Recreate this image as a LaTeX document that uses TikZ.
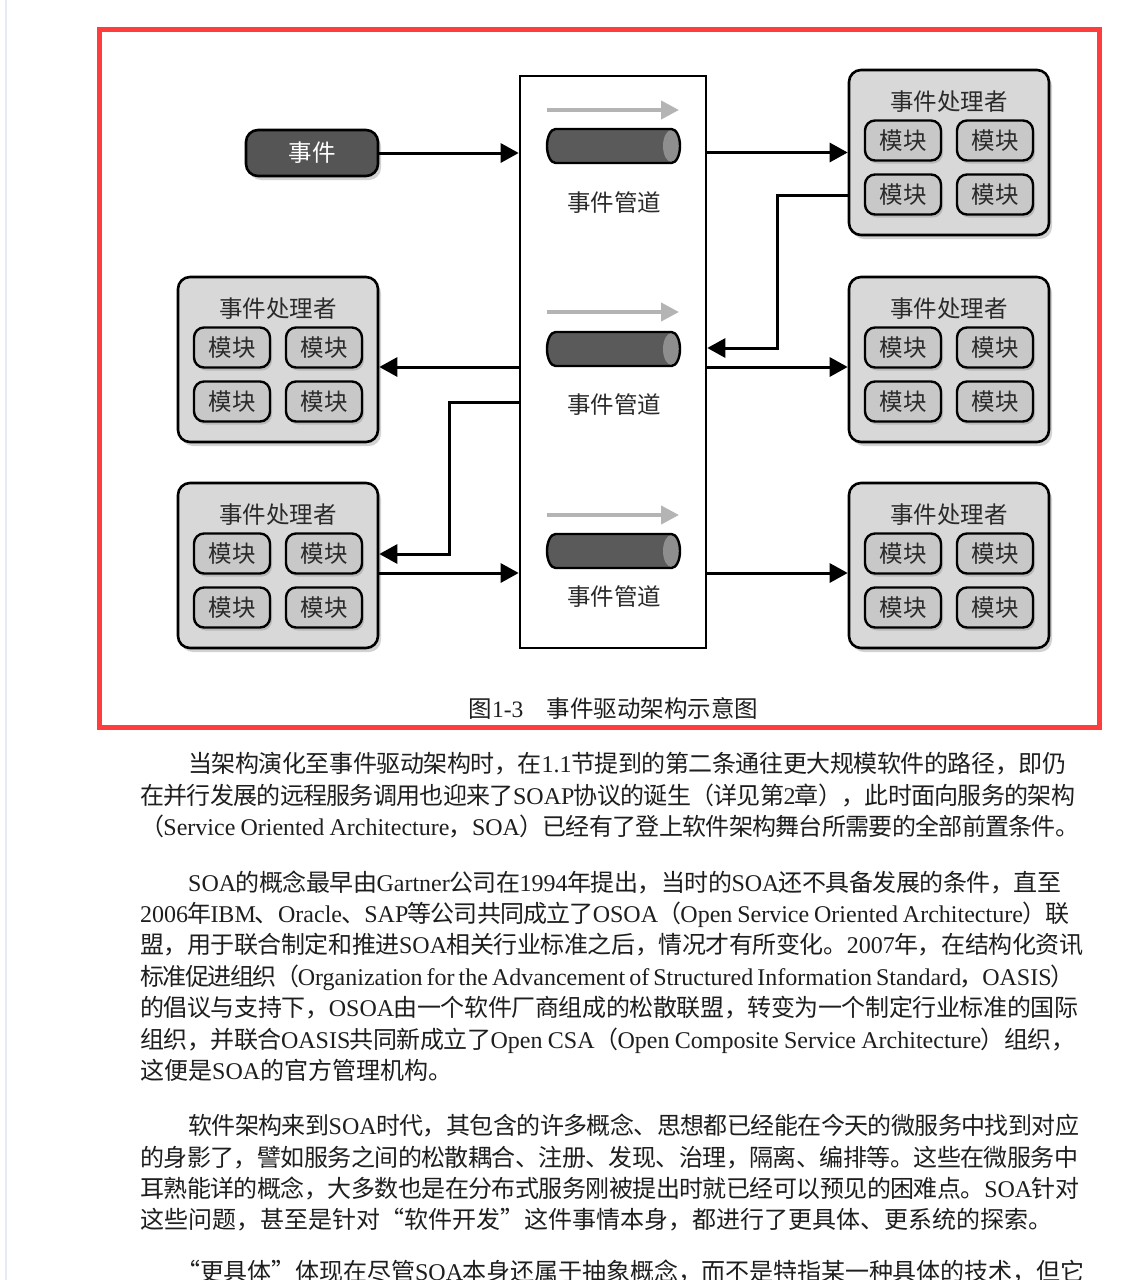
\documentclass[tikz,border=0pt]{standalone}
\usepackage{fontspec}
\setmainfont{Liberation Serif}
\newfontfamily\cjkfont{Noto Sans CJK SC}
\newfontfamily\latfont{Liberation Serif}
\usetikzlibrary{shadows,arrows.meta}
% automatic switching between Latin and CJK fonts
\XeTeXinterchartokenstate=1
\newXeTeXintercharclass\cjkcls
\newcount\cjkcnt
\def\cjkrange#1#2{\cjkcnt=#1\relax
  \loop
    \XeTeXcharclass\cjkcnt=\cjkcls
    \advance\cjkcnt by 1\relax
  \ifnum\cjkcnt<#2\relax
  \repeat}
\cjkrange{"4E00}{"A000}
\cjkrange{"3000}{"3040}
\cjkrange{"FF00}{"FFF0}
\cjkrange{"2018}{"201A}
\cjkrange{"201C}{"201E}
\newcommand\cjkglue{\hskip 0pt plus 2pt minus 1.5pt\relax}
\XeTeXinterchartoks 0 \cjkcls = {\cjkglue\cjkfont}
\XeTeXinterchartoks 4095 \cjkcls = {\cjkfont}
\XeTeXinterchartoks \cjkcls 0 = {\latfont\cjkglue}
\XeTeXinterchartoks \cjkcls 4095 = {\latfont}
\XeTeXinterchartoks \cjkcls \cjkcls = {\cjkglue}
\definecolor{redbox}{HTML}{FF3D3D}
\definecolor{procfill}{HTML}{D8D8D8}
\definecolor{modfill}{HTML}{C8C8C8}
\definecolor{darkfill}{HTML}{555555}
\definecolor{pipefill}{HTML}{5A5A5A}
\definecolor{pipeend}{HTML}{8E8E8E}
\definecolor{grayarrow}{HTML}{B4B4B4}
\definecolor{txt}{HTML}{1E1E1E}
\definecolor{dtxt}{HTML}{2A2A2A}
\definecolor{edgeblue}{HTML}{E4EBF4}
\newcommand\procgroup[3]{%
  \node[proc] (#1) at (#2,#3) {};
  \node[ptitle] (#1t) at (#2,#3-51) {事件处理者};
  \node[modbox] (#1a) at (#2-46,#3-12) {模块};
  \node[modbox] (#1b) at (#2+46,#3-12) {模块};
  \node[modbox] (#1c) at (#2-46,#3+42) {模块};
  \node[modbox] (#1d) at (#2+46,#3+42) {模块};
}
% horizontal pipe (cylinder lying on its side) drawn round a named node
\newcommand\pipeshape[1]{%
  \fill[pipefill] ([xshift=8.5pt]#1.north west) -- ([xshift=-8.5pt]#1.north east)
    arc[start angle=90, end angle=-90, x radius=8.5pt, y radius=17pt]
    -- ([xshift=8.5pt]#1.south west)
    arc[start angle=270, end angle=90, x radius=8.5pt, y radius=17pt] -- cycle;
  \fill[pipeend] ([xshift=-8.5pt]#1.east) ellipse[x radius=8.5pt, y radius=16pt];
  \draw[black, line width=2.4pt] ([xshift=8.5pt]#1.north west) -- ([xshift=-8.5pt]#1.north east)
    arc[start angle=90, end angle=-90, x radius=8.5pt, y radius=17pt]
    -- ([xshift=8.5pt]#1.south west)
    arc[start angle=270, end angle=90, x radius=8.5pt, y radius=17pt] -- cycle;
}
\begin{document}
\begin{tikzpicture}[x=1pt,y=-1pt,
  dfont/.style={font=\fontsize{23.5}{26}\selectfont},
  proc/.style={draw=black, line width=2.6pt, rounded corners=12pt, fill=procfill,
    minimum width=200pt, minimum height=165pt, inner sep=0pt,
    drop shadow={shadow xshift=3pt, shadow yshift=-4pt, opacity=0.35}},
  ptitle/.style={dfont, text=dtxt, inner sep=0pt},
  modbox/.style={draw=black, line width=2.4pt, rounded corners=10pt, fill=modfill,
    minimum width=76pt, minimum height=40pt, inner sep=0pt, dfont, text=dtxt,
    drop shadow={shadow xshift=2pt, shadow yshift=-3pt, opacity=0.35}},
  eventbox/.style={draw=black, line width=2.6pt, rounded corners=12pt, fill=darkfill,
    minimum width=132pt, minimum height=46pt, inner sep=0pt, dfont, text=white,
    drop shadow={shadow xshift=3pt, shadow yshift=-4pt, opacity=0.35}},
  chanbox/.style={draw=black, line width=2.6pt, fill=white,
    minimum width=186pt, minimum height=572pt, inner sep=0pt},
  pipenode/.style={minimum width=133pt, minimum height=34pt, inner sep=0pt, outer sep=0pt},
  plabel/.style={dfont, text=dtxt, inner sep=0pt},
  conn/.style={draw=black, line width=3pt, -{Triangle[length=18pt,width=19pt]}},
  grayarr/.style={draw=grayarrow, line width=4pt, -{Triangle[length=18pt,width=18pt]}},
  bodytext/.style={font=\fontsize{24}{24}\selectfont, text=txt, inner sep=0pt, anchor=base west}
]
\useasboundingbox (0,0) rectangle (1141,1280);
\clip (0,0) rectangle (1141,1280);
\fill[white] (0,0) rectangle (1141,1280);
\draw[edgeblue, line width=2pt] (6,0) -- (6,1280);
\draw[redbox, line width=5pt] (99,29.5) rectangle (1099,727);

% channel
\node[chanbox] (ch) at (613,362) {};
\coordinate (g1a) at (547,110); \coordinate (g1b) at (679,110);
\coordinate (g2a) at (547,312); \coordinate (g2b) at (679,312);
\coordinate (g3a) at (547,515); \coordinate (g3b) at (679,515);
\draw[grayarr] (g1a) -- (g1b);
\draw[grayarr] (g2a) -- (g2b);
\draw[grayarr] (g3a) -- (g3b);
\node[pipenode] (p1) at (613.5,146) {};
\node[pipenode] (p2) at (613.5,349) {};
\node[pipenode] (p3) at (613.5,551) {};
\pipeshape{p1}
\pipeshape{p2}
\pipeshape{p3}
\node[plabel] (l1) at (614,203) {事件管道};
\node[plabel] (l2) at (614,405) {事件管道};
\node[plabel] (l3) at (614,597) {事件管道};

% event
\node[eventbox] (ev) at (312,153) {事件};

% processors
\procgroup{rp1}{949}{152.5}
\procgroup{rp2}{949}{359.5}
\procgroup{rp3}{949}{565.5}
\procgroup{lp2}{278}{359.5}
\procgroup{lp3}{278}{565.5}

% connector levels
\coordinate (y195) at (0,195);
\coordinate (y348) at (0,348);
\coordinate (y367) at (0,367);
\coordinate (y402) at (0,402);
\coordinate (y554) at (0,554);
\coordinate (y573) at (0,573);
\coordinate (x777) at (777,0);
\coordinate (x449) at (449,0);

\draw[conn] (ev.east) -- (ev.east -| ch.west);
\draw[conn] (ch.east |- rp1.west) -- (rp1.west);
\draw[conn] (rp1.west |- y195) -- (x777 |- y195) -- (x777 |- y348) -- (ch.east |- y348);
\draw[conn] (ch.east |- y367) -- (rp2.west |- y367);
\draw[conn] (ch.west |- y367) -- (lp2.east |- y367);
\draw[conn] (ch.west |- y402) -- (x449 |- y402) -- (x449 |- y554) -- (lp3.east |- y554);
\draw[conn] (lp3.east |- y573) -- (ch.west |- y573);
\draw[conn] (ch.east |- y573) -- (rp3.west |- y573);

% caption
\node[font=\fontsize{23.5}{26}\selectfont, text=txt, inner sep=0pt] (cap) at (613.5,708) {图1-3　事件驱动架构示意图};

% body text
\node[bodytext] (b1) at (188,772) {\hbox to 878pt{当架构演化至事件驱动架构时，在1.1节提到的第二条通往更大规模软件的路径，即仍}};
\node[bodytext] (b2) at (140,804) {\hbox to 935pt{在并行发展的远程服务调用也迎来了SOAP协议的诞生（详见第2章），此时面向服务的架构}};
\node[bodytext] (b3) at (140,835) {\hbox to 939pt{（Service Oriented Architecture，SOA）已经有了登上软件架构舞台所需要的全部前置条件。}};

\node[bodytext] (c1) at (188,891) {\hbox to 873pt{SOA的概念最早由Gartner公司在1994年提出，当时的SOA还不具备发展的条件，直至}};
\node[bodytext] (c2) at (140,922) {\hbox to 929pt{2006年IBM、Oracle、SAP等公司共同成立了OSOA（Open Service Oriented Architecture）联}};
\node[bodytext] (c3) at (140,953) {\hbox to 943pt{盟，用于联合制定和推进SOA相关行业标准之后，情况才有所变化。2007年，在结构化资讯}};
\node[bodytext] (c4) at (140,985) {\hbox to 934pt{标准促进组织（Organization for the Advancement of Structured Information Standard，OASIS）}};
\node[bodytext] (c5) at (140,1016) {\hbox to 938pt{的倡议与支持下，OSOA由一个软件厂商组成的松散联盟，转变为一个制定行业标准的国际}};
\node[bodytext] (c6) at (140,1048) {\hbox to 935pt{组织，并联合OASIS共同新成立了Open CSA（Open Composite Service Architecture）组织，}};
\node[bodytext] (c7) at (140,1079) {\hbox{这便是SOA的官方管理机构。}};

\node[bodytext] (d1) at (188,1134) {\hbox to 891pt{软件架构来到SOA时代，其包含的许多概念、思想都已经能在今天的微服务中找到对应}};
\node[bodytext] (d2) at (140,1166) {\hbox to 938pt{的身影了，譬如服务之间的松散耦合、注册、发现、治理，隔离、编排等。这些在微服务中}};
\node[bodytext] (d3) at (140,1197) {\hbox to 939pt{耳熟能详的概念，大多数也是在分布式服务刚被提出时就已经可以预见的困难点。SOA针对}};
\node[bodytext] (d4) at (140,1228) {\hbox{这些问题，甚至是针对“软件开发”这件事情本身，都进行了更具体、更系统的探索。}};

\node[bodytext] (e1) at (176,1280) {\hbox to 908pt{“更具体”体现在尽管SOA本身还属于抽象概念，而不是特指某一种具体的技术，但它}};
\end{tikzpicture}
\end{document}
